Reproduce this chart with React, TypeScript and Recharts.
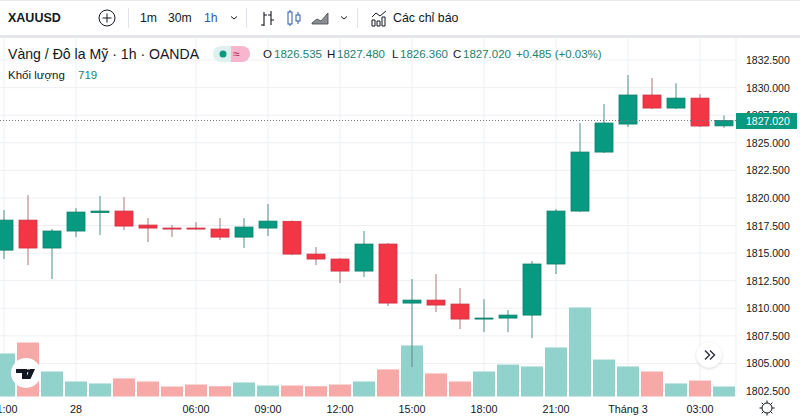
import {
  ComposedChart,
  Bar,
  Cell,
  XAxis,
  YAxis,
  CartesianGrid,
  ReferenceLine,
} from 'recharts';

const FONT = '"Liberation Sans", Arial, sans-serif';
const UP = '#089a80';
const DOWN = '#f23645';
const UP_EDGE = '#0a7f6a';
const DOWN_EDGE = '#cf3040';
const UP_WICK = '#4f8f83';
const DOWN_WICK = '#a8787c';
const UP_VOL = '#92d2cc';
const DOWN_VOL = '#f7a9a7';
const TEXT = '#131722';
const LEGEND_UP = '#22806f';

const timeLabels = [
  '21:00', '22:00', '23:00', '28', '02:00', '03:00', '04:00', '05:00', '06:00', '07:00', '08:00',
  '09:00', '10:00', '11:00', '12:00', '13:00', '14:00', '15:00', '16:00', '17:00', '18:00', '19:00',
  '20:00', '21:00', '22:00', '23:00', 'Tháng 3', '01:00', '02:00', '03:00', '04:00',
];
const shownTicks = [0, 3, 8, 11, 14, 17, 20, 23, 26, 29];
const priceTicks = [1802.5, 1805, 1807.5, 1810, 1812.5, 1815, 1817.5, 1820, 1822.5, 1825, 1827.5, 1830, 1832.5];

const opens = [
  1815.27, 1817.99, 1815.46, 1817.0, 1818.68, 1818.81, 1817.54, 1817.27, 1817.27, 1817.18, 1816.45,
  1817.27, 1817.88, 1814.91, 1814.46, 1813.37, 1815.82, 1810.47, 1810.74, 1810.38, 1809.02, 1809.11,
  1809.38, 1814.01, 1818.81, 1824.16, 1826.7, 1829.33, 1828.15, 1829.05, 1826.535,
];
const highs = [
  1818.9, 1820.26, 1817.18, 1819.08, 1820.17, 1820.08, 1818.18, 1817.54, 1817.81, 1818.18, 1818.18,
  1819.44, 1817.95, 1815.55, 1814.55, 1817.0, 1815.91, 1812.65, 1813.1, 1811.83, 1810.83, 1809.83,
  1814.28, 1818.99, 1826.79, 1828.51, 1831.14, 1830.87, 1830.41, 1829.42, 1827.48,
];
const lows = [
  1814.46, 1813.91, 1812.65, 1816.45, 1816.63, 1817.09, 1816.0, 1816.45, 1817.13, 1816.18, 1815.46,
  1816.54, 1814.82, 1813.91, 1812.28, 1812.83, 1810.2, 1804.67, 1809.65, 1808.11, 1807.84, 1807.84,
  1807.3, 1813.1, 1818.72, 1824.07, 1826.43, 1828.06, 1828.06, 1826.43, 1826.36,
];
const closes = [
  1817.99, 1815.46, 1817.0, 1818.72, 1818.81, 1817.45, 1817.27, 1817.18, 1817.18, 1816.45, 1817.36,
  1817.9, 1814.91, 1814.46, 1813.37, 1815.82, 1810.47, 1810.74, 1810.29, 1809.02, 1809.11, 1809.38,
  1814.01, 1818.81, 1824.16, 1826.79, 1829.33, 1828.15, 1829.05, 1826.52, 1827.02,
];
const volumes = [
  3100, 3890, 1800, 1080, 940, 1300, 1080, 720, 860, 740, 1010,
  790, 790, 740, 860, 1080, 1950, 3670, 1660, 1080, 1800, 2300,
  2160, 3530, 6400, 2660, 2160, 1800, 940, 1150, 719,
];

const lastClose = 1827.02;

const chartData = timeLabels.map((label, i) => ({
  idx: i,
  label,
  open: opens[i],
  high: highs[i],
  low: lows[i],
  close: closes[i],
  range: [lows[i], highs[i]],
  volume: volumes[i],
}));

function Candle(props: any) {
  const { x, y, width, height, payload } = props;
  const { open, close, high, low } = payload;
  const rising = close >= open;
  const perUnit = height / (high - low);
  const yOf = (v: number) => y + (high - v) * perUnit;
  const top = yOf(Math.max(open, close));
  const bottom = yOf(Math.min(open, close));
  const mid = x + width / 2;
  return (
    <g>
      <line x1={mid} x2={mid} y1={y} y2={y + height} stroke={rising ? UP_WICK : DOWN_WICK} strokeWidth={1} />
      <rect
        x={x}
        y={top}
        width={width}
        height={Math.max(bottom - top, 1)}
        fill={rising ? UP : DOWN}
        stroke={rising ? UP_EDGE : DOWN_EDGE}
        strokeWidth={0.8}
      />
    </g>
  );
}

// last price is the final tick, so its tag paints over the 1827.500 label
function PriceTick(props: any) {
  const { x, y, payload } = props;
  const isLast = payload.value === lastClose;
  return (
    <g>
      {isLast && <rect x={x - 10} y={y - 7.5} width={61} height={16} fill={UP} />}
      <text x={x} y={y + 4} fill={isLast ? '#fff' : TEXT} fontSize={10.5} fontFamily={FONT}>
        {payload.value.toFixed(3)}
      </text>
    </g>
  );
}

function Txt({ x, y, size = 11.5, color = TEXT, bold = false, children }: any) {
  return (
    <span
      style={{
        position: 'absolute',
        left: x,
        top: y,
        fontSize: size,
        lineHeight: '16px',
        color,
        fontWeight: bold ? 700 : 400,
        fontFamily: FONT,
        whiteSpace: 'nowrap',
      }}
    >
      {children}
    </span>
  );
}

function Sep({ x }: { x: number }) {
  return <div style={{ position: 'absolute', left: x, top: 8, width: 1, height: 20, background: '#e0e3eb' }} />;
}

function ToolbarIcons() {
  return (
    <svg width={800} height={36} style={{ position: 'absolute', left: 0, top: 0 }} fill="none">
      <circle cx={107} cy={18} r={8} stroke={TEXT} strokeWidth={1} />
      <path d="M107 13.5v9M102.500 18h9" stroke={TEXT} strokeWidth={1} />
      <path d="M231 16.500l3 2.500 3-2.500M341 16.500l3 2.500 3-2.500" stroke={TEXT} strokeWidth={1} />
      <path d="M264 12v14M261 25h3M264 15h3M271 11v14M271 20h3M268 15h3" stroke={TEXT} strokeWidth={1.1} />
      <rect x={288} y={12} width={4} height={12} stroke="#2a5aa8" strokeWidth={1} />
      <path d="M290 10v2M290 24v2M298 12v3M298 21v3" stroke="#2a5aa8" strokeWidth={1} />
      <rect x={296} y={15} width={4} height={6} stroke="#2a5aa8" strokeWidth={1} />
      <path d="M312 23l5-4 4 2 7-8v11h-16z" fill="#8a8d94" stroke="#444" strokeWidth={0.8} />
      <path d="M372 17l4-4 4 3 6-5" stroke={TEXT} strokeWidth={1} />
      <path d="M372 20h3v6h-3zM377 21h3v5h-3zM382 17h3v9h-3z" stroke={TEXT} strokeWidth={1} />
    </svg>
  );
}

function StatusPill() {
  return (
    <svg width={40} height={18} style={{ position: 'absolute', left: 212, top: 45 }}>
      <path d="M9 1h10v16H9a8 8 0 0 1 0-16z" fill="#dff1ef" />
      <path d="M19 1h11a8 8 0 0 1 0 16H19z" fill="#f7b6cd" />
      <circle cx={11} cy={9} r={3.5} fill={UP} />
      <text x={24.500} y={13} fontSize={12} fontFamily={FONT} fill="#b0244f" textAnchor="middle">≈</text>
    </svg>
  );
}

function Overlays() {
  return (
    <svg width={800} height={418} style={{ position: 'absolute', left: 0, top: 0, pointerEvents: 'none' }} fill="none">
      <defs>
        <filter id="soft" x="-30%" y="-30%" width="160%" height="160%">
          <feDropShadow dx={0} dy={1} stdDeviation={1.5} floodColor="#000" floodOpacity={0.18} />
        </filter>
      </defs>
      <circle cx={26} cy={373} r={15} fill="#fff" />
      <path d="M16 369h11v10h-5v-6h-6zM30 369h5l-4.500 10h-5z" fill="#131722" />
      <circle cx={28.500} cy={371} r={1.8} fill="#131722" />
      <circle cx={709} cy={355} r={12.500} fill="#fff" filter="url(#soft)" />
      <path d="M705 350.500l4.500 4.500-4.500 4.500M710 350.500l4.500 4.500-4.500 4.500" stroke="#2a2e39" strokeWidth={1.4} />
      <circle cx={767} cy={408} r={5} stroke={TEXT} strokeWidth={1} />
      <path d="M767 400.500v2.500M767 413v2.500M759.500 408h2.500M772 408h2.500M761.700 402.700l1.800 1.800M770.500 411.500l1.800 1.800M772.300 402.700l-1.800 1.800M763.500 411.500l-1.800 1.800" stroke={TEXT} strokeWidth={1} />
    </svg>
  );
}

export default function App() {
  return (
    <div style={{ position: 'fixed', left: 0, top: 0, width: 800, height: 418, overflow: 'hidden', background: '#fff' }}>
      <div style={{ position: 'absolute', left: 0, top: 0, width: 800, height: 1, background: '#e8eaee' }} />
      <div style={{ position: 'absolute', left: 0, top: 35, width: 800, height: 3, background: '#e4e6ec' }} />

      <div style={{ position: 'absolute', left: -8, top: 38 }}>
        <ComposedChart
          width={808}
          height={380}
          data={chartData}
          margin={{ top: 0, right: 0, bottom: 0, left: 0 }}
          barGap={0}
        >
          <CartesianGrid
            xAxisId="time"
            yAxisId="price"
            stroke="#edeff3"
            strokeWidth={1}
            horizontalValues={priceTicks}
          />
          <XAxis
            xAxisId="time"
            dataKey="idx"
            type="category"
            ticks={shownTicks}
            interval={0}
            height={21.5}
            tickFormatter={(i: number) => timeLabels[i]}
            tick={{ fontSize: 10.8, fill: TEXT, fontFamily: FONT }}
            tickLine={false}
            axisLine={false}
            tickMargin={3}
          />
          <XAxis xAxisId="vol" dataKey="idx" type="category" hide />
          <YAxis
            yAxisId="price"
            orientation="right"
            width={64}
            domain={[1802, 1834.5]}
            ticks={[...priceTicks, lastClose]}
            interval={0}
            tick={<PriceTick />}
            tickLine={false}
            axisLine={false}
            tickMargin={4}
          />
          <YAxis yAxisId="volume" hide domain={[0, 25812]} />
          <Bar xAxisId="vol" yAxisId="volume" dataKey="volume" barSize={22} isAnimationActive={false}>
            {chartData.map((d) => (
              <Cell key={d.idx} fill={d.close >= d.open ? UP_VOL : DOWN_VOL} />
            ))}
          </Bar>
          <ReferenceLine
            xAxisId="time"
            yAxisId="price"
            y={lastClose}
            stroke="#6f7480"
            strokeDasharray="1 2"
            strokeWidth={1}
          />
          <Bar
            xAxisId="time"
            yAxisId="price"
            dataKey="range"
            barSize={18}
            shape={<Candle />}
            isAnimationActive={false}
          />
        </ComposedChart>
      </div>

      <Txt x={8} y={10} size={12.5} bold>XAUUSD</Txt>
      <Txt x={140} y={10} size={12.2}>1m</Txt>
      <Txt x={168} y={10} size={12.2}>30m</Txt>
      <Txt x={204} y={10} size={12.2} color="#2a5aa8">1h</Txt>
      <Txt x={393} y={10} size={12.4}>Các chỉ báo</Txt>
      <ToolbarIcons />
      <Sep x={128} />
      <Sep x={246} />
      <Sep x={357} />

      <Txt x={8} y={45.5} size={14.1}>Vàng / Đô la Mỹ · 1h · OANDA</Txt>
      <StatusPill />
      <Txt x={263} y={46}>O</Txt>
      <Txt x={274} y={46} color={LEGEND_UP}>1826.535</Txt>
      <Txt x={327} y={46}>H</Txt>
      <Txt x={337} y={46} color={LEGEND_UP}>1827.480</Txt>
      <Txt x={392} y={46}>L</Txt>
      <Txt x={400} y={46} color={LEGEND_UP}>1826.360</Txt>
      <Txt x={453} y={46}>C</Txt>
      <Txt x={463} y={46} color={LEGEND_UP}>1827.020</Txt>
      <Txt x={516} y={46} color={LEGEND_UP}>+0.485 (+0.03%)</Txt>
      <Txt x={8} y={67} size={11.5}>Khối lượng</Txt>
      <Txt x={78} y={67} size={11.5} color={LEGEND_UP}>719</Txt>

      <Overlays />
    </div>
  );
}
